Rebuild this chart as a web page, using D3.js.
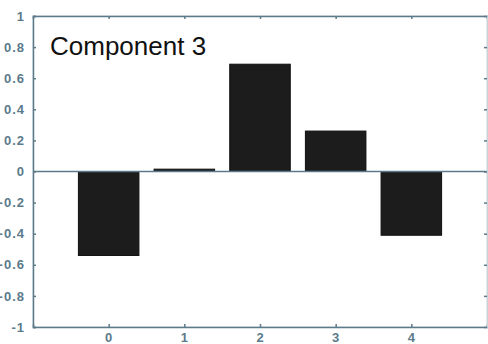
<!DOCTYPE html>
<html>
<head>
<meta charset="utf-8">
<script src="https://cdn.jsdelivr.net/npm/d3@7"></script>
<style>
  body { margin: 0; background: #fff; }
  svg { display: block; }
</style>
</head>
<body>
<div id="chart"></div>
<script>
const categories = [0, 1, 2, 3, 4];
const values = [-0.54, 0.015, 0.69, 0.26, -0.41];
const xTicks = [0, 1, 2, 3, 4];
const yTicks = [-1, -0.8, -0.6, -0.4, -0.2, 0, 0.2, 0.4, 0.6, 0.8, 1];
const title = "Component 3";

const width = 488, height = 344;
const margin = { top: 16, right: 1, bottom: 17, left: 33 };
const axisColor = "#5b7b8b";

const svg = d3.select("#chart").append("svg")
    .attr("width", width)
    .attr("height", height);

const x = d3.scaleLinear().domain([-1, 5]).range([margin.left, width - margin.right]);
const y = d3.scaleLinear().domain([-1, 1]).range([height - margin.bottom, margin.top]);

const barW = (x(1) - x(0)) * 0.8;

// bars
svg.selectAll("rect.bar")
    .data(categories)
    .enter().append("rect")
    .attr("class", "bar")
    .attr("x", (d) => x(d) - barW / 2)
    .attr("width", barW)
    .attr("y", (d, i) => y(Math.max(0, values[i])))
    .attr("height", (d, i) => Math.abs(y(values[i]) - y(0)))
    .attr("fill", "#1c1c1c")
    .attr("stroke", "#111")
    .attr("stroke-width", 1);

// zero line
svg.append("line")
    .attr("x1", x(-1)).attr("x2", x(5))
    .attr("y1", y(0)).attr("y2", y(0))
    .attr("stroke", axisColor)
    .attr("stroke-width", 1.5);

// frame
svg.append("rect")
    .attr("x", x(-1)).attr("y", y(1))
    .attr("width", x(5) - x(-1)).attr("height", y(-1) - y(1))
    .attr("fill", "none")
    .attr("stroke", "#c9d3d8")
    .attr("stroke-width", 1);

const yAxis = svg.append("g")
    .attr("transform", `translate(${x(-1)},0)`)
    .call(d3.axisLeft(y).tickValues(yTicks).tickSize(-3).tickPadding(8)
        .tickFormat((d) => String(d)));

const xAxis = svg.append("g")
    .attr("transform", `translate(0,${y(-1)})`)
    .call(d3.axisBottom(x).tickValues(xTicks).tickSize(-3).tickPadding(6)
        .tickFormat((d) => String(d)));

const topAxis = svg.append("g")
    .attr("transform", `translate(0,${y(1)})`)
    .call(d3.axisTop(x).tickValues(xTicks).tickSize(-3).tickFormat(""));

const rightAxis = svg.append("g")
    .attr("transform", `translate(${x(5)},0)`)
    .call(d3.axisRight(y).tickValues(yTicks).tickSize(-3).tickFormat(""));

[yAxis, xAxis, topAxis].forEach((g) => {
    g.select(".domain").attr("stroke", axisColor).attr("stroke-width", 1.5);
});
rightAxis.select(".domain").attr("stroke", "#c9d3d8");
[yAxis, xAxis, topAxis, rightAxis].forEach((g) => {
    g.selectAll(".tick line").attr("stroke", axisColor).attr("stroke-width", 1.5);
    g.selectAll(".tick text")
        .attr("fill", axisColor)
        .style("font-family", "Liberation Sans, Arial, sans-serif")
        .style("font-size", "13px")
        .style("font-weight", "bold")
        .style("letter-spacing", "1px");
});

svg.append("text")
    .attr("x", x(-1) + 17)
    .attr("y", y(0.8) + 8)
    .attr("fill", "#111")
    .style("font-family", "Liberation Sans, Arial, sans-serif")
    .style("font-size", "26px")
    .text(title);
</script>
</body>
</html>
